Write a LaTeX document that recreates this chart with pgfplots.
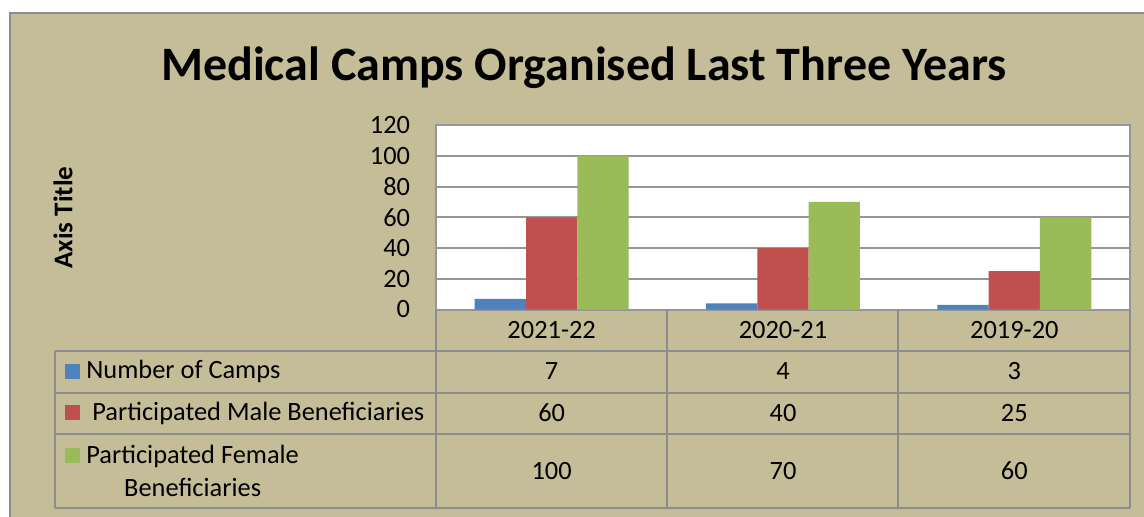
\documentclass[border=0pt]{standalone}
\usepackage{pgfplots}
\pgfplotsset{compat=1.18}
\usepackage{pgfplotstable}
\usepackage{fontspec}
\setmainfont{Carlito}
\definecolor{bgtan}{HTML}{C4BD97}
\definecolor{cblue}{HTML}{4F81BD}
\definecolor{cred}{HTML}{C0504D}
\definecolor{cgreen}{HTML}{9BBB59}
\definecolor{lgray}{HTML}{8C8C8C}
\definecolor{ggray}{HTML}{969696}

\pgfplotstableread{
x camps male female
0 7 60 100
1 4 40 70
2 3 25 60
}\data

\begin{document}
\begin{tikzpicture}[x=0.5pt,y=-0.5pt]
\useasboundingbox (0,0) rectangle (1144,516);
\fill[bgtan] (10,12.5) rectangle (1160,530);
\draw[lgray, line width=1pt] (10,530) -- (10,12.5) -- (1160,12.5);
\node[font=\bfseries\fontsize{24}{28}\selectfont, anchor=base, inner sep=0pt] at (584,80) {Medical Camps Organised Last Three Years};
\node[font=\bfseries\fontsize{13.5}{16}\selectfont, rotate=90, inner sep=0pt] at (63,217.5) {Axis Title};
\coordinate (O) at (436,309.5);
\begin{axis}[at={(O)}, anchor=south west, scale only axis,
  width=347pt, height=92.25pt,
  xmin=-0.5, xmax=2.5, ymin=0, ymax=120,
  enlargelimits=false, clip=false,
  axis background/.style={fill=white},
  axis line style={ggray, line width=1pt},
  ytick={0,20,...,120},
  ymajorgrids, grid style={ggray, line width=1pt},
  major tick length=0pt,
  xtick={0,1,2}, xticklabels={2021-22,2020-21,2019-20},
  /pgf/number format/assume math mode=true,
  tick label style={font=\fontsize{13.2}{16}\selectfont, inner sep=0pt},
  xticklabel style={anchor=center, yshift=-10.25pt},
  yticklabel style={anchor=east, xshift=-12.75pt},
  bar width=25.65pt,
  nodes near coords style={anchor=center, font=\fontsize{13.2}{16}\selectfont, text=black},
]
\addplot[ybar, bar shift=-25.65pt, fill=cblue, draw=none] table[x=x, y=camps] {\data};
\addplot[ybar, bar shift=0pt, fill=cred, draw=none] table[x=x, y=male] {\data};
\addplot[ybar, bar shift=25.65pt, fill=cgreen, draw=none] table[x=x, y=female] {\data};
\addplot[only marks, mark=none, point meta=explicit, nodes near coords,
  nodes near coords style={yshift=-31pt}] table[x=x, y expr=0, meta=camps] {\data};
\addplot[only marks, mark=none, point meta=explicit, nodes near coords,
  nodes near coords style={yshift=-51.75pt}] table[x=x, y expr=0, meta=male] {\data};
\addplot[only marks, mark=none, point meta=explicit, nodes near coords,
  nodes near coords style={yshift=-80.75pt}] table[x=x, y expr=0, meta=female] {\data};
\end{axis}
\draw[lgray, line width=1pt]
  (55,350.5) -- (1130,350.5)
  (55,392.5) -- (1130,392.5)
  (55,434) -- (1130,434)
  (55,508) -- (1130,508)
  (55,350.5) -- (55,508)
  (436,309.5) -- (436,508)
  (667,309.5) -- (667,508)
  (898,309.5) -- (898,508)
  (1130,309.5) -- (1130,508);
\fill[cblue] (65,364) rectangle (80,379);
\fill[cred] (65,405) rectangle (80,420);
\fill[cgreen] (65,448) rectangle (80,463);
\begin{scope}[every node/.style={font=\fontsize{13.2}{16.25}\selectfont, inner sep=0pt, anchor=west}]
\node at (86,371.5) {Number of Camps};
\node at (92,413) {Participated Male Beneficiaries};
\node[align=center] at (86,471) {Participated Female\\Beneficiaries};
\end{scope}
\end{tikzpicture}
\end{document}
